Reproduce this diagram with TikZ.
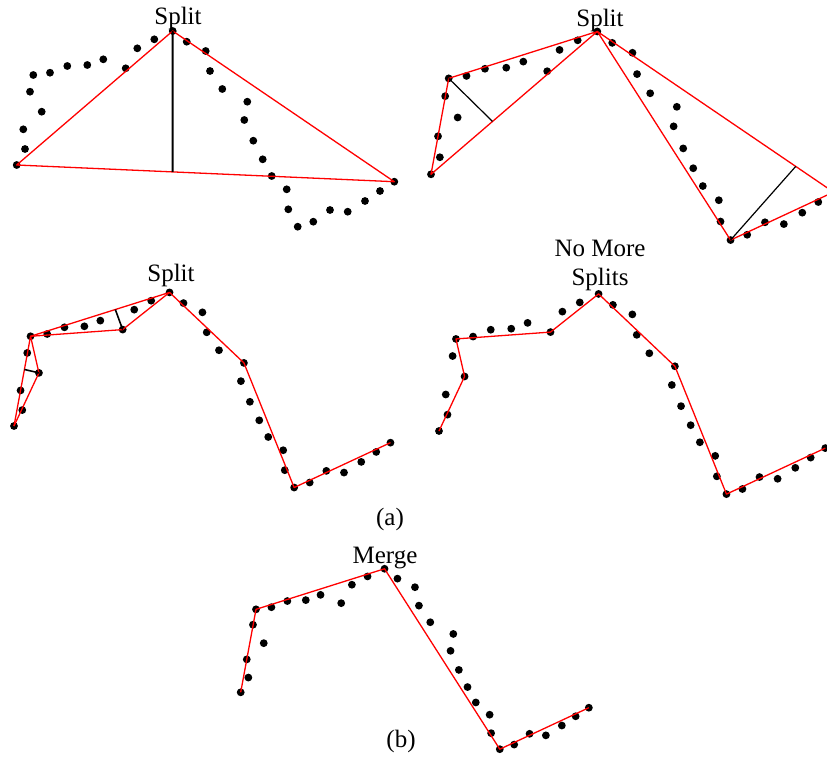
\documentclass[tikz,border=0pt]{standalone}
\usepackage{fontspec}
\setmainfont{Liberation Serif}
\usetikzlibrary{calc}
\tikzset{
  pdot/.style={fill=black},
  seg/.style={draw=red,line width=1.3pt,line join=round},
  perp/.style={draw=black,line width=1.2pt},
  lbl/.style={font=\fontsize{25}{30}\selectfont,inner sep=0pt,anchor=base},
}
% the digitised curve, relative to its first point
\def\ptlist{0/0, 8.3/-16, 6.6/-35.7, 25/-53.3, 13.3/-73.3, 16.6/-90,
  33.3/-92.3, 50.6/-99, 70.6/-100, 86.6/-105.7, 109/-96.7, 120.6/-116.7,
  137.6/-125.7, 156/-134, 170/-123.3, 189/-114, 193.3/-94, 205.6/-76,
  230.6/-63.3, 227.6/-45, 236.6/-24.3, 246/-5.7, 255/11, 270/24.3,
  271.6/44.3, 281/61.7, 296.6/56.7, 313.3/45, 331/46.7, 348.3/36,
  363.3/26, 377.6/16.7}
\newcommand\placecurve[4]{%
  \begin{scope}[shift={(#2,#3)},scale=#4]
    \foreach \x/\y [count=\i from 0] in \ptlist {\coordinate (#1\i) at (\x,\y);}
  \end{scope}}

\begin{document}
\begin{tikzpicture}[x=1pt,y=-1pt]
  \useasboundingbox (0,0) rectangle (827,756);
  \placecurve{a}{16.7}{165}{1}
  \placecurve{b}{431}{174.3}{1.066}
  \placecurve{c}{14}{426}{0.997}
  \placecurve{d}{439}{431}{1.023}
  \placecurve{e}{240.7}{692.3}{0.922}
  \foreach \p in {a,b,c,d,e}
    \foreach \i in {0,...,31} \fill[pdot] (\p\i) circle (3.9pt);
  % step 1
  \draw[seg] (a0) -- (a13) -- (a31) -- cycle;
  \draw[perp,line width=2pt] (a13) -- ($(a0)!0.413!(a31)$);
  % step 2
  \draw[seg] (b0) -- (b5) -- (b13) -- cycle;
  \draw[seg] (b13) -- (b25) -- (b31) -- cycle;
  \draw[perp] (b5) -- ($(b0)!0.37!(b13)$);
  \draw[perp] (b25) -- ($(b13)!0.84!(b31)$);
  % step 3
  \draw[seg] (c0) -- (c5) -- (c13);
  \draw[seg] (c0) -- (c3) -- (c5) -- (c10) -- (c13) -- (c18) -- (c25) -- (c31);
  \draw[perp,line width=1.6pt] (c3) -- ($(c0)!0.63!(c5)$);
  \draw[perp,line width=1.6pt] (c10) -- ($(c5)!0.61!(c13)$);
  % final and merged
  \draw[seg] (d0) -- (d3) -- (d5) -- (d10) -- (d13) -- (d18) -- (d25) -- (d31);
  \draw[seg] (e0) -- (e5) -- (e13) -- (e25) -- (e31);
  \node[lbl] (s1) at (178,24) {Split};
  \node[lbl] (s2) at (600,26) {Split};
  \node[lbl] (s3) at (171,281) {Split};
  \node[lbl] (s4a) at (600,256) {No More};
  \node[lbl] (s4b) at (600,285) {Splits};
  \node[lbl] (mg) at (385,563) {Merge};
  \node[lbl] (capa) at (390,525) {(a)};
  \node[lbl] (capb) at (401,747) {(b)};
\end{tikzpicture}
\end{document}
